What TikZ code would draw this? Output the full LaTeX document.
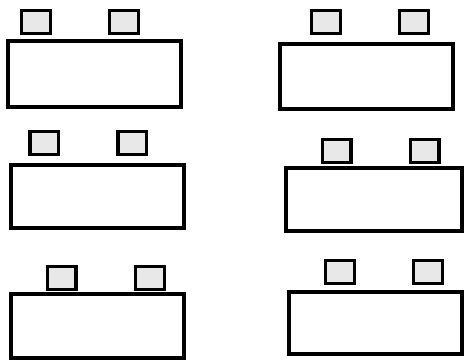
\documentclass[tikz,border=0pt]{standalone}
\begin{document}
\begin{tikzpicture}[x=1pt,y=-1pt,
  bigbox/.style={draw=black,fill=white,line width=4pt,rectangle,inner sep=0pt,minimum width=173pt,minimum height=64pt},
  pad/.style={draw=black,fill=gray!18,line width=3.3pt,rectangle,inner sep=0pt,minimum width=28.7pt,minimum height=22.4pt}]
\useasboundingbox[fill=white] (0,0) rectangle (464,360);
% row 1
\node[bigbox,minimum height=66pt] (r1) at (94.5,74) {};
\node[pad] (s1a) at (36,22) {};
\node[pad] (s1b) at (124,22) {};
\node[bigbox,minimum height=65pt] (r2) at (366.5,76.5) {};
\node[pad] (s2a) at (326,22) {};
\node[pad] (s2b) at (414,22) {};
% row 2
\node[bigbox,minimum width=173.3pt,minimum height=63.3pt] (r3) at (97.3,196.3) {};
\node[pad] (s3a) at (44.3,143) {};
\node[pad] (s3b) at (132.3,143) {};
\node[bigbox,minimum width=176pt,minimum height=62.7pt] (r4) at (374,199.3) {};
\node[pad] (s4a) at (336.7,151) {};
\node[pad] (s4b) at (424.7,151) {};
% row 3
\node[bigbox,minimum width=173.3pt,minimum height=64.3pt] (r5) at (97.3,325.8) {};
\node[pad] (s5a) at (61.5,278) {};
\node[pad] (s5b) at (150,278) {};
\node[bigbox,minimum height=62pt] (r6) at (375.5,323) {};
\node[pad] (s6a) at (340,272) {};
\node[pad] (s6b) at (428,272) {};
\end{tikzpicture}
\end{document}
